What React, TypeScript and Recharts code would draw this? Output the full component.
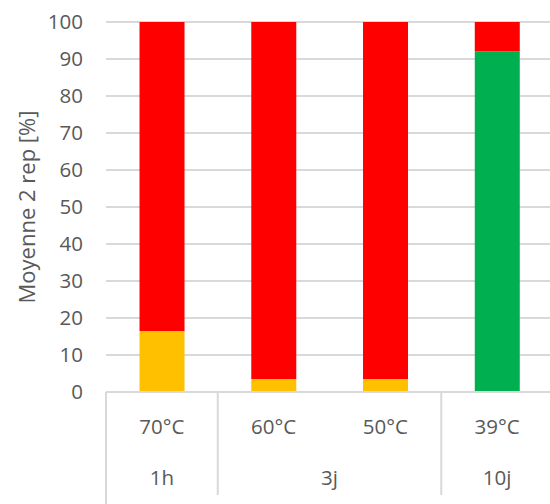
import React from "react";
import { Bar, BarChart, CartesianGrid, XAxis, YAxis } from "recharts";

const temps = ["70°C", "60°C", "50°C", "39°C"];
const durations = ["1h", "3j", "3j", "10j"];
const orange = [16.5, 3.5, 3.5, 0];
const green = [0, 0, 0, 92];
const red = [83.5, 96.5, 96.5, 8];
const yTicks = [0, 10, 20, 30, 40, 50, 60, 70, 80, 90, 100];

const data = temps.map((t, i) => ({
  temp: t,
  group: durations[i],
  orange: orange[i],
  green: green[i],
  red: red[i],
}));

const FONT = "'Open Sans', sans-serif";
const TEXT = "#595959";
const LINE = "#d9d9d9";
const SIZE = 20.5;

const CategoryTick = (props: any) => {
  const { x, y, payload } = props;
  const i = payload.index;
  const half = payload.offset;
  const g = durations[i];
  const first = i === 0 || durations[i - 1] !== g;
  let span = 0;
  for (let j = i; j < durations.length && durations[j] === g; j++) span++;
  const left = x - half;
  return (
    <g>
      <text x={x} y={y + 42} textAnchor="middle" fill={TEXT} fontSize={SIZE} fontFamily={FONT}>
        {payload.value}
      </text>
      {first && (
        <>
          <line x1={left} x2={left} y1={y} y2={i === 0 ? y + 112 : y + 103} stroke={LINE} strokeWidth={2} />
          <text x={left + span * half} y={y + 93} textAnchor="middle" fill={TEXT} fontSize={SIZE} fontFamily={FONT}>
            {g}
          </text>
        </>
      )}
      {i === durations.length - 1 && (
        <line x1={x + half} x2={x + half} y1={y} y2={y + 112} stroke={LINE} strokeWidth={2} />
      )}
    </g>
  );
};

export default function App() {
  return (
    <div style={{ position: "absolute", left: 0, top: 0, width: 550, height: 504, overflow: "hidden", background: "#fff" }}>
      <BarChart
        width={560}
        height={504}
        data={data}
        margin={{ top: 22, right: 7, bottom: 0, left: 0 }}
        barCategoryGap="30%"
      >
        <CartesianGrid vertical={false} stroke={LINE} strokeWidth={2} />
        <XAxis
          dataKey="temp"
          height={112}
          interval={0}
          tickLine={false}
          tickSize={0}
          tickMargin={0}
          axisLine={{ stroke: LINE, strokeWidth: 2 }}
          tick={<CategoryTick />}
        />
        <YAxis
          width={106}
          domain={[0, 100]}
          ticks={yTicks}
          interval={0}
          axisLine={false}
          tickLine={false}
          tickSize={0}
          tickMargin={23}
          tick={{ fill: TEXT, fontSize: SIZE, fontFamily: FONT }}
          label={{
            value: "Moyenne 2 rep [%]",
            angle: -90,
            position: "insideLeft",
            dx: 22,
            style: { textAnchor: "middle", fill: TEXT, fontSize: 22, fontFamily: FONT },
          }}
        />
        <Bar dataKey="orange" stackId="a" fill="#FFC000" isAnimationActive={false} />
        <Bar dataKey="green" stackId="a" fill="#00B050" isAnimationActive={false} />
        <Bar dataKey="red" stackId="a" fill="#FF0000" isAnimationActive={false} />
      </BarChart>
    </div>
  );
}
